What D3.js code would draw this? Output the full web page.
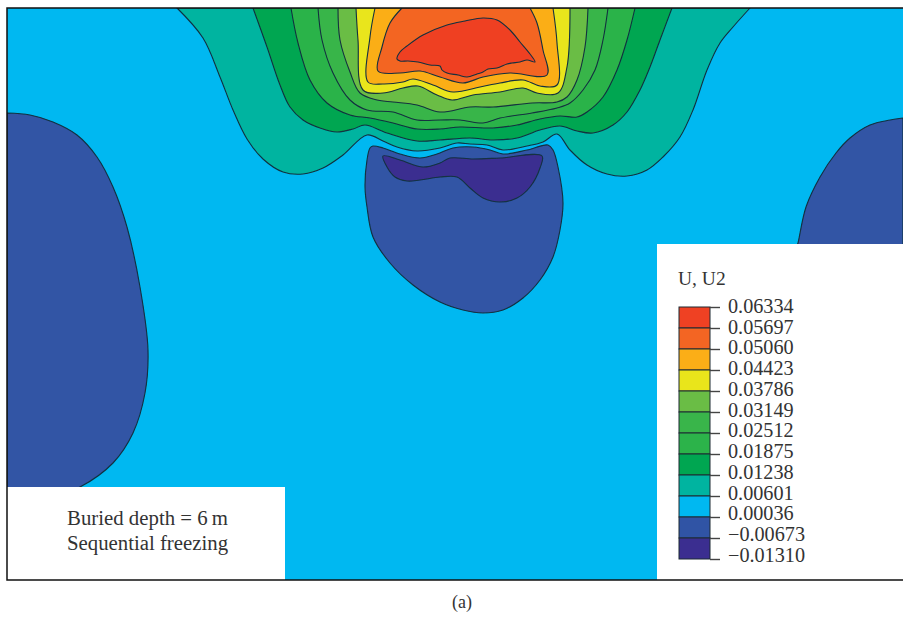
<!DOCTYPE html>
<html>
<head>
<meta charset="utf-8">
<style>
  html, body { margin: 0; padding: 0; background: #fff; }
  svg { display: block; }
  text { font-family: "Liberation Serif", serif; fill: #333; }
  .contour { stroke: #12303f; stroke-width: 1.1; stroke-linejoin: round; }
</style>
<script src="https://cdn.jsdelivr.net/npm/d3@7"></script>
</head>
<body>
<div id="chart"></div>
<script>
// legend
var tickLabels = ["0.06334", "0.05697", "0.05060", "0.04423", "0.03786", "0.03149", "0.02512",
    "0.01875", "0.01238", "0.00601", "0.00036", "\u22120.00673", "\u22120.01310"];
var bandColors = ["#ef4123", "#f36523", "#fbae17", "#e9e51b", "#6abd45", "#39b54a", "#2cb34a",
    "#00a651", "#00b4a0", "#00b8f1", "#3054a5", "#3b2e90"];

// contour outlines, x and y in plot units
var bandTeal = [[177,8],[203,38],[220,77],[233,110],[247,139],[263,159],[283,172],[303,174],[323,168],[343,155],[367,135],
    [383,141],[397,147],[417,151],[440,148],[457,143],[470,144],[487,145],[503,150],[527,146],[543,142],[557,134],
    [570,150],[587,165],[607,174],[627,176],[647,170],[663,157],[680,137],[693,110],[707,70],[720,43],[733,27],[750,8]];
var bandDarkGreen = [[253,8],[267,47],[280,85],[290,107],[303,120],[320,128],[337,132],[353,129],[365,125],[387,133],
    [417,141],[440,140],[470,138],[493,140],[517,138],[540,130],[560,126],[577,131],[593,133],[613,125],[627,112],
    [640,90],[650,67],[660,40],[672,8]];
var bandGreen = [[291,8],[298,43],[310,80],[327,103],[350,115],[370,118],[393,123],[417,129],[440,129],[460,127],
    [493,128],[517,125],[540,119],[560,116],[577,117],[587,112],[603,97],[617,70],[627,40],[635,8]];
var bandGreen2 = [[318,8],[322,40],[333,73],[350,100],[367,110],[393,112],[417,120],[440,120],[460,120],[483,123],
    [500,118],[532,113],[557,108],[570,103],[583,90],[595,70],[603,40],[608,8]];
var bandLime = [[338,8],[340,40],[350,72],[360,93],[377,100],[393,102],[417,105],[440,112],[470,107],[493,107],
    [532,103],[557,102],[567,97],[577,80],[585,47],[588,8]];
var bandYellow = [[356,8],[358,40],[363,90],[383,93],[403,88],[418,86],[437,95],[452,100],[473,95],[500,92],
    [523,88],[537,93],[558,93],[567,67],[570,8]];
var bandAmber = [[375,8],[370,37],[368,82],[383,84],[403,82],[413,79],[433,85],[453,92],[480,87],[500,83],
    [523,80],[540,86],[557,85],[557,43],[553,8]];
var bandOrange = [[402,8],[390,23],[382,47],[378,71],[400,73],[420,71],[440,77],[463,83],[483,77],[510,73],
    [547,75],[543,50],[537,23],[530,8]];
var bandRed = [[397,59],[400,52],[407,46],[423,35],[447,25],[465,21],[483,18],[497,20],[510,30],[520,42],[530,54],[535,62],
    [527,60],[520,62],[512,63],[507,64],[497,68],[488,69],[483,72],[477,74],[467,77],[458,75],[447,73],[442,70],[440,66],
    [430,65],[418,62],[408,61],[400,61]];
var blueCentre = [[373,146],[383,148],[400,154],[420,158],[437,154],[453,148],[473,147],[490,150],[503,154],[527,150],
    [548,145],[553,150],[558,167],[563,203],[560,230],[553,257],[540,280],[523,298],[503,310],[483,313],[463,310],[440,302],
    [413,285],[390,263],[373,237],[367,207],[365,187],[367,160],[370,148]];
var purpleCentre = [[383,156],[400,160],[423,167],[440,163],[450,158],[473,159],[500,158],[542,156],[540,168],[530,187],
    [517,198],[500,202],[483,198],[470,188],[457,177],[440,177],[420,180],[407,181],[395,177],[387,167]];
var blueLeft = [[7,113],[30,115],[53,122],[77,135],[97,157],[113,187],[127,227],[140,287],[148,350],[145,393],[133,433],
    [113,463],[80,487],[60,494],[7,494]];
var blueRight = [[903,118],[890,120],[870,125],[850,138],[836,153],[820,177],[806,207],[798,243],[796,250],[903,250]];

var bands = [
    { pts: blueLeft, color: "#3054a5", closed: false },
    { pts: blueRight, color: "#3054a5", closed: false },
    { pts: bandTeal, color: "#00b4a0", closed: false },
    { pts: bandDarkGreen, color: "#00a651", closed: false },
    { pts: bandGreen, color: "#2cb34a", closed: false },
    { pts: bandGreen2, color: "#39b54a", closed: false },
    { pts: bandLime, color: "#6abd45", closed: false },
    { pts: bandYellow, color: "#e9e51b", closed: false },
    { pts: bandAmber, color: "#fbae17", closed: false },
    { pts: bandOrange, color: "#f36523", closed: false },
    { pts: bandRed, color: "#ef4123", closed: true },
    { pts: blueCentre, color: "#3054a5", closed: true },
    { pts: purpleCentre, color: "#3b2e90", closed: true }
];

var width = 903;
var height = 618;
var plotLeft = 7;
var plotTop = 8;
var plotBottom = 580;

var svg = d3.select("#chart").append("svg")
    .attr("width", width)
    .attr("height", height);

var x = d3.scaleLinear().domain([plotLeft, width]).range([plotLeft, width]);
var y = d3.scaleLinear().domain([plotTop, plotBottom]).range([plotTop, plotBottom]);

var defs = svg.append("defs");
defs.append("clipPath")
    .attr("id", "plotClip")
    .append("rect")
    .attr("x", plotLeft)
    .attr("y", plotTop)
    .attr("width", width - plotLeft)
    .attr("height", plotBottom - plotTop);

// the picture is soft, like a scanned figure
defs.append("filter")
    .attr("id", "soft")
    .append("feGaussianBlur")
    .attr("stdDeviation", 0.45);

var plot = svg.append("g").attr("clip-path", "url(#plotClip)");
var field = plot.append("g").attr("filter", "url(#soft)");

field.append("rect")
    .attr("x", plotLeft - 5)
    .attr("y", plotTop - 5)
    .attr("width", width - plotLeft + 10)
    .attr("height", plotBottom - plotTop + 10)
    .attr("fill", "#00b8f1");

var openLine = d3.line()
    .x(function (d) { return x(d[0]); })
    .y(function (d) { return y(d[1]); })
    .curve(d3.curveCatmullRom.alpha(0.5));

var closedLine = d3.line()
    .x(function (d) { return x(d[0]); })
    .y(function (d) { return y(d[1]); })
    .curve(d3.curveCatmullRomClosed.alpha(0.5));

bands.forEach(function (b) {
    field.append("path")
        .attr("class", "contour")
        .attr("d", b.closed ? closedLine(b.pts) : openLine(b.pts) + "Z")
        .attr("fill", b.color);
});

// white panels on top of the plot
plot.append("rect")
    .attr("x", plotLeft)
    .attr("y", 487)
    .attr("width", 278)
    .attr("height", plotBottom - 487)
    .attr("fill", "#fff");

plot.append("rect")
    .attr("x", 657)
    .attr("y", 244)
    .attr("width", width - 657)
    .attr("height", plotBottom - 244)
    .attr("fill", "#fff");

// frame
svg.append("path")
    .attr("d", "M" + width + "," + plotTop + "H" + plotLeft + "V" + plotBottom + "H" + width)
    .attr("fill", "none")
    .attr("stroke", "#111")
    .attr("stroke-width", 1.5);

// legend bar
var legendY = d3.scalePoint().domain(tickLabels).range([307, 559]);
// the printed labels sit a little tighter than the ticks
var labelY = d3.scalePoint().domain(tickLabels).range([306, 555]);
var legend = svg.append("g");

legend.selectAll(".band")
    .data(bandColors)
    .enter()
    .append("rect")
    .attr("class", "band")
    .attr("x", 679)
    .attr("width", 31)
    .attr("y", function (d, i) { return legendY(tickLabels[i]); })
    .attr("height", function (d, i) { return legendY(tickLabels[i + 1]) - legendY(tickLabels[i]); })
    .attr("fill", function (d) { return d; })
    .attr("stroke", "#1c2a33")
    .attr("stroke-width", 1);

var legendAxis = d3.axisRight(legendY).tickSize(10).tickPadding(8);
var axisG = legend.append("g")
    .attr("transform", "translate(710,0)")
    .call(legendAxis);
axisG.select(".domain").remove();
axisG.selectAll("line").attr("stroke", "#444").attr("stroke-width", 1.4);
axisG.selectAll("text")
    .attr("y", function (d) { return labelY(d) - legendY(d); })
    .style("font-family", '"Liberation Serif", serif')
    .style("font-size", "20.2px")
    .attr("fill", "#333");

svg.append("text")
    .attr("x", 678)
    .attr("y", 285)
    .style("font-size", "19.5px")
    .text("U, U2");

svg.append("text")
    .attr("x", 147.5)
    .attr("y", 525)
    .attr("text-anchor", "middle")
    .style("font-size", "20.8px")
    .text("Buried depth = 6\u2009m");

svg.append("text")
    .attr("x", 147.5)
    .attr("y", 550)
    .attr("text-anchor", "middle")
    .style("font-size", "20.8px")
    .text("Sequential freezing");

svg.append("text")
    .attr("x", 462)
    .attr("y", 608)
    .attr("text-anchor", "middle")
    .style("font-size", "18px")
    .text("(a)");
</script>
</body>
</html>
